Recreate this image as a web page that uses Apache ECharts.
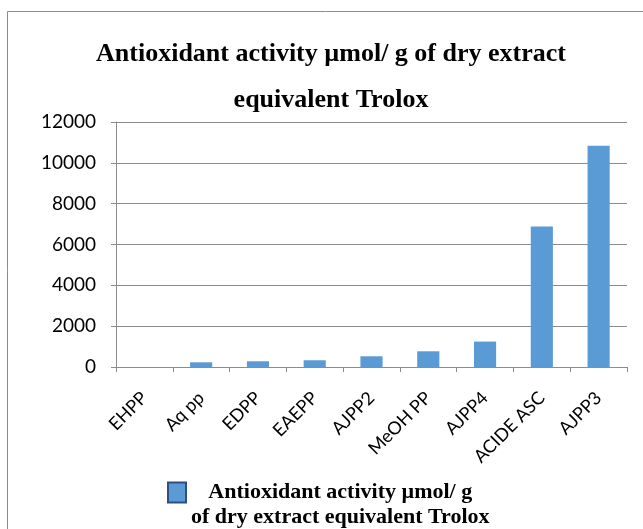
<!DOCTYPE html>
<html>
<head>
<meta charset="utf-8">
<script src="https://cdn.jsdelivr.net/npm/echarts@6/dist/echarts.min.js"></script>
<style>
  html, body { margin: 0; padding: 0; background: #fff; }
  #main { width: 643px; height: 529px; }
</style>
</head>
<body>
<div id="main"></div>
<script>
    // chart data
    var categories = ['EHPP', 'Aq pp', 'EDPP', 'EAEPP', 'AJPP2', 'MeOH PP', 'AJPP4', 'ACIDE ASC', 'AJPP3'];
    var values = [0, 230, 280, 330, 525, 770, 1245, 6880, 10840];
    var seriesName = 'Antioxidant activity µmol/ g\nof dry extract equivalent Trolox';

    var myChart = echarts.init(document.getElementById('main'));

    var option = {
        backgroundColor: '#fff',
        animation: false,
        title: {
            text: 'Antioxidant activity µmol/ g of dry extract\nequivalent Trolox',
            left: 331,
            top: 31,
            padding: 0,
            textAlign: 'center',
            textStyle: {
                fontFamily: 'Liberation Serif',
                fontWeight: 'bold',
                fontSize: 26,
                lineHeight: 46,
                color: '#000'
            }
        },
        graphic: [{
            type: 'rect',
            shape: { x: 7.5, y: 11.5, width: 700, height: 600 },
            style: { fill: 'none', stroke: '#8c8c8c', lineWidth: 1 },
            silent: true
        }],
        legend: {
            left: 162,
            top: 450,
            icon: 'rect',
            itemWidth: 18,
            itemHeight: 20,
            itemGap: 8,
            itemStyle: { borderColor: '#2e4f80', borderWidth: 2 },
            textStyle: {
                fontFamily: 'Liberation Serif',
                fontWeight: 'bold',
                fontSize: 22,
                lineHeight: 25,
                color: '#000',
                padding: [25, 0, 0, 0],
                rich: {
                    c: { align: 'center', fontFamily: 'Liberation Serif', fontWeight: 'bold', fontSize: 22, lineHeight: 25 }
                }
            },
            formatter: function (name) {
                return name.split('\n').map(function (s) { return '{c|' + s + '}'; }).join('\n');
            }
        },
        grid: {
            left: 116,
            right: 16,
            top: 122,
            bottom: 162
        },
        xAxis: {
            type: 'category',
            data: categories,
            axisLine: { lineStyle: { color: '#8c8c8c', width: 1 } },
            axisTick: { show: true, length: 5, alignWithLabel: false, lineStyle: { color: '#8c8c8c' } },
            axisLabel: {
                interval: 0,
                rotate: 45,
                margin: 28,
                fontFamily: 'Lato',
                fontSize: 18,
                color: '#000'
            }
        },
        yAxis: {
            type: 'value',
            min: 0,
            max: 12000,
            interval: 2000,
            axisLine: { show: true, lineStyle: { color: '#8c8c8c', width: 1 } },
            axisTick: { show: true, length: 5, lineStyle: { color: '#8c8c8c' } },
            axisLabel: {
                margin: 20,
                fontFamily: 'Lato',
                fontSize: 19,
                color: '#000',
                formatter: function (v) { return String(v); }
            },
            splitLine: { lineStyle: { color: '#8c8c8c', width: 1 } }
        },
        series: [
            {
                name: seriesName,
                type: 'bar',
                data: values,
                barCategoryGap: '61%',
                itemStyle: { color: '#5b9bd5' }
            }
        ]
    };

    myChart.setOption(option);
</script>
</body>
</html>
